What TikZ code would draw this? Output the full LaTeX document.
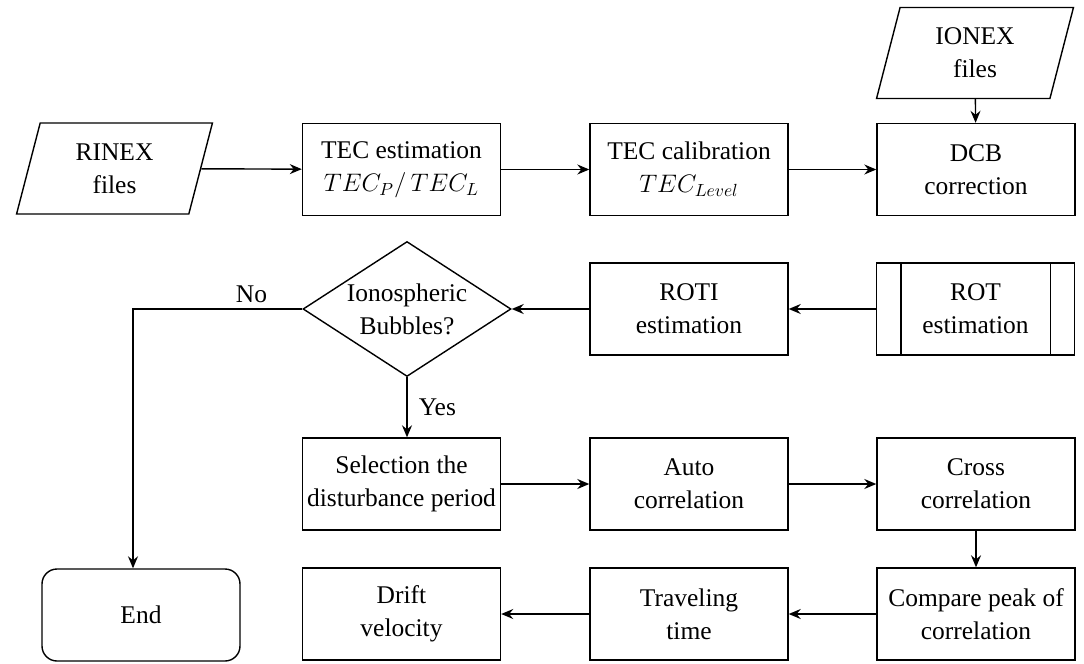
\documentclass[tikz,border=0pt]{standalone}
\usepackage{fontspec}
\setmainfont{Liberation Serif}
\newfontfamily\timesfont{Liberation Serif}
\usepackage{tikz}
\usetikzlibrary{arrows.meta,positioning,shapes.geometric,calc}

\tikzset{
    procbox/.style={draw, line width=0.8pt, minimum width=3.96cm, minimum height=1.84cm, align=center, inner sep=1pt},
    databox/.style={draw, line width=0.8pt, trapezium, trapezium left angle=77, trapezium right angle=103,
        trapezium stretches=true, minimum width=3.94cm, minimum height=1.82cm, align=center},
    decbox/.style={draw, line width=0.8pt, diamond, aspect=1.55, minimum width=4.16cm, minimum height=2.7cm, align=center, inner sep=0pt},
    endbox/.style={procbox, rounded corners=0.3cm},
    flow/.style={-{Stealth[length=2.4mm,width=2mm,inset=0.8mm]}, line width=0.8pt}
}

\begin{document}
\begin{tikzpicture}[font=\timesfont\fontsize{14.5}{18.8}\selectfont]
    \useasboundingbox (0,0) rectangle (21.68,-13.28);

    % Input and pre-processing
    \node[databox] (rinex) at (2.29,-3.37) {RINEX\\files};
    \node[procbox] (tecest) at (8.03,-3.39) {TEC estimation\\$TEC_P/\,TEC_L$};
    \node[procbox] (teccal) at (13.78,-3.39) {TEC calibration\\$TEC_{Level}$};
    \node[procbox] (dcb) at (19.52,-3.39) {DCB\\correction};
    \node[databox] (ionex) at (19.50,-1.06) {IONEX\\files};

    % ROT / ROTI and decision
    \node[procbox] (rot) at (19.51,-6.18) {ROT\\estimation};
    \draw[line width=0.8pt] ([xshift=0.5cm]rot.north west) -- ([xshift=0.5cm]rot.south west);
    \draw[line width=0.8pt] ([xshift=-0.5cm]rot.north east) -- ([xshift=-0.5cm]rot.south east);
    \node[procbox] (roti) at (13.78,-6.18) {ROTI\\estimation};
    \node[decbox] (bubble) at (8.14,-6.18) {Ionospheric\\Bubbles?};

    % Correlation analysis
    \node[procbox] (select) at (8.03,-9.68) {Selection the\\disturbance period};
    \node[procbox] (autocor) at (13.78,-9.68) {Auto\\correlation};
    \node[procbox] (crosscor) at (19.52,-9.68) {Cross\\correlation};
    \node[procbox] (peak) at (19.52,-12.28) {Compare peak of\\correlation};
    \node[procbox] (travel) at (13.78,-12.28) {Traveling\\time};
    \node[procbox] (drift) at (8.03,-12.28) {Drift\\velocity};
    \node[endbox] (stop) at (2.82,-12.30) {End};

    % Connectors
    \draw[flow] (rinex) -- (tecest);
    \draw[flow] (tecest) -- (teccal);
    \draw[flow] (teccal) -- (dcb);
    \draw[flow] (ionex) -- (dcb);
    \draw[flow] (rot) -- (roti);
    \draw[flow] (roti) -- (bubble);
    \draw[flow] (bubble.west) -| ([xshift=-0.16cm]stop.north) node[pos=0.15,above] {No};
    \draw[flow] (bubble.south) -- (bubble.south |- select.north) node[midway,right=3pt] {Yes};
    \draw[flow] (select) -- (autocor);
    \draw[flow] (autocor) -- (crosscor);
    \draw[flow] (crosscor) -- (peak);
    \draw[flow] (peak) -- (travel);
    \draw[flow] (travel) -- (drift);
\end{tikzpicture}
\end{document}
